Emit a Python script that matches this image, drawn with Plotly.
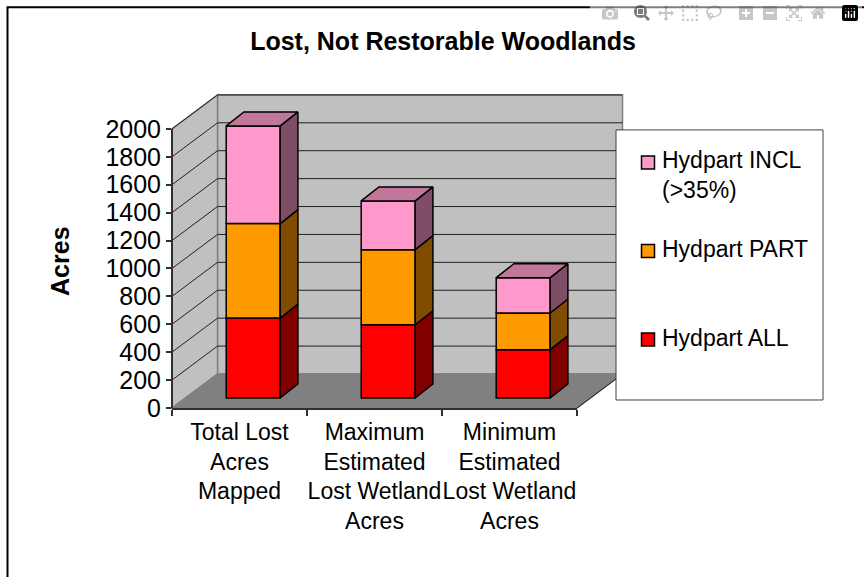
"""Lost, not restorable woodlands: Excel style stacked 3D column chart."""
import plotly.graph_objects as go

categories = [
    "Total Lost<br>Acres<br>Mapped",
    "Maximum<br>Estimated<br>Lost Wetland<br>Acres",
    "Minimum<br>Estimated<br>Lost Wetland<br>Acres",
]
hydpart_all = [573, 525, 346]
hydpart_part = [677, 538, 263]
hydpart_incl = [700, 349, 253]
y_ticks = list(range(0, 2001, 200))

FONT = "Liberation Sans, Arial, sans-serif"
Y_TOP = 2200  # head room for the lid of the tall column
PX_X = 135  # px per category
PX_Y = 0.1395  # px per acre
X0, Y0 = 172, 408  # page position of the axis origin
# oblique projection, in axis units
DEPTH_X = 45.5 / PX_X
DEPTH_Y = 34 / PX_Y
BAR_SHIFT_X = 13.7 / PX_X
BAR_SHIFT_Y = 10 / PX_Y
BAR_DEPTH_X = 17.7 / PX_X
BAR_DEPTH_Y = 14 / PX_Y
BAR_WIDTH = 54 / PX_X

series = [
    ("Hydpart ALL", hydpart_all, "#FF0000", "#800000"),
    ("Hydpart PART", hydpart_part, "#FF9900", "#804D00"),
    ("Hydpart INCL<br>(>35%)", hydpart_incl, "#FF99CC", "#804D66"),
]
TOP_COLOR = "#C0779A"
# first-line centre of each legend entry on the page, same order as series
legend_rows = [339.5, 251, 162.5]


def page_x(px):
    return (px - X0) / (3 * PX_X)


def page_y(py):
    return (Y0 - py) / (Y_TOP * PX_Y)


def poly(xs, ys, fill, line="#808080", width=1.5, close=True):
    """Polygon below the traces, given in axis units."""
    pts = [f"{x / 3:.5f},{y / Y_TOP:.5f}" for x, y in zip(xs, ys)]
    return dict(
        type="path", xref="paper", yref="paper", layer="below",
        path="M" + " L".join(pts) + (" Z" if close else ""),
        fillcolor=fill, line=dict(color=line, width=width),
    )


def face(xs, ys, color):
    return go.Scatter(
        x=xs, y=ys, mode="lines", fill="toself", fillcolor=color,
        line=dict(color="black", width=1.5),
        showlegend=False, hoverinfo="skip",
    )


fig = go.Figure()

x_front = [i + BAR_SHIFT_X + 0.5 for i in range(3)]
bottoms = [BAR_SHIFT_Y] * 3
for name, values, color, side in series:
    fig.add_trace(go.Bar(
        x=x_front, y=values, base=bottoms, width=BAR_WIDTH, name=name,
        marker=dict(color=color, line=dict(color="black", width=1.5)),
        showlegend=False, hoverinfo="skip",
    ))
    for xc, b, v in zip(x_front, bottoms, values):
        xr = xc + BAR_WIDTH / 2
        fig.add_trace(face(
            [xr, xr + BAR_DEPTH_X, xr + BAR_DEPTH_X, xr, xr],
            [b, b + BAR_DEPTH_Y, b + v + BAR_DEPTH_Y, b + v, b],
            side,
        ))
    bottoms = [b + v for b, v in zip(bottoms, values)]

# lid on top of each stack
for xc, t in zip(x_front, bottoms):
    xl, xr = xc - BAR_WIDTH / 2, xc + BAR_WIDTH / 2
    fig.add_trace(face(
        [xl, xr, xr + BAR_DEPTH_X, xl + BAR_DEPTH_X, xl],
        [t, t, t + BAR_DEPTH_Y, t + BAR_DEPTH_Y, t],
        TOP_COLOR,
    ))

top = y_ticks[-1]
shapes = [
    poly([DEPTH_X, 3 + DEPTH_X, 3 + DEPTH_X, DEPTH_X],
         [DEPTH_Y, DEPTH_Y, top + DEPTH_Y, top + DEPTH_Y], "#C0C0C0"),
    poly([0, DEPTH_X, DEPTH_X, 0], [0, DEPTH_Y, top + DEPTH_Y, top], "#C0C0C0"),
]
for y in y_ticks[1:]:
    shapes.append(poly([0, DEPTH_X, 3 + DEPTH_X], [y, y + DEPTH_Y, y + DEPTH_Y],
                       "rgba(0,0,0,0)", line="#202020", width=1, close=False))
shapes.append(poly([0, DEPTH_X, 3 + DEPTH_X, 3], [0, DEPTH_Y, DEPTH_Y, 0], "#808080"))
shapes.append(poly([3, 3 + DEPTH_X], [0, DEPTH_Y], "rgba(0,0,0,0)",
                   line="#202020", width=1, close=False))
# value axis line stops at the last tick, the axis range goes on above it
shapes.append(poly([0, 0], [0, top], "rgba(0,0,0,0)", line="#303030", width=2, close=False))
# chart frame: the page cuts it off on the right and at the bottom
shapes.append(dict(
    type="path", xref="paper", yref="paper", layer="below",
    path=f"M{page_x(7.5)},{page_y(577)} L{page_x(7.5)},{page_y(7.5)} L{page_x(864)},{page_y(7.5)}",
    line=dict(color="black", width=2),
))
# hand drawn legend so the swatches sit next to the text as in the original
shapes.append(dict(
    type="rect", xref="paper", yref="paper", layer="above",
    x0=page_x(616), x1=page_x(823), y0=page_y(400), y1=page_y(130),
    fillcolor="white", line=dict(color="#404040", width=1),
))
annotations = [dict(
    text="<b>Acres</b>", textangle=-90, showarrow=False,
    xref="paper", yref="paper", x=page_x(44), y=page_y(261),
    font=dict(size=25),
)]
for (name, _, color, _), row in zip(series, legend_rows):
    shapes.append(dict(
        type="rect", xref="paper", yref="paper", layer="above",
        x0=page_x(641.5), x1=page_x(654.5), y0=page_y(row + 6.5), y1=page_y(row - 6.5),
        fillcolor=color, line=dict(color="black", width=1.5),
    ))
    lines = name.count("<br>")
    annotations.append(dict(
        text=name, showarrow=False, align="left", xanchor="left", yanchor="middle",
        xref="paper", yref="paper", x=page_x(660), y=page_y(row - 1.5 + lines * 14.5),
        font=dict(size=23),
    ))

fig.update_layout(
    width=864, height=577,
    margin=dict(l=X0, r=864 - X0 - 3 * PX_X, t=Y0 - Y_TOP * PX_Y, b=577 - Y0),
    paper_bgcolor="white", plot_bgcolor="rgba(0,0,0,0)",
    font=dict(family=FONT, color="black", size=23),
    barmode="overlay",
    showlegend=False,
    shapes=shapes,
    annotations=annotations,
    title=dict(
        text="<b>Lost, Not Restorable Woodlands</b>",
        x=443 / 864, xanchor="center", y=1 - 41 / 577, yanchor="middle",
        font=dict(size=25),
    ),
    xaxis=dict(
        range=[0, 3], tickmode="array", tickvals=[0.5, 1.5, 2.5], ticktext=categories,
        tickangle=0, showgrid=False, zeroline=False, showline=True,
        linecolor="#303030", linewidth=2, ticks="", ticklen=0, ticklabelstandoff=2,
        minor=dict(tickmode="array", tickvals=[0, 1, 2, 3], ticks="outside",
                   ticklen=6, tickcolor="#303030", tickwidth=1.5, showgrid=False),
    ),
    yaxis=dict(
        range=[0, Y_TOP], tickmode="array", tickvals=y_ticks,
        showgrid=False, zeroline=False, showline=False,
        ticks="outside", ticklen=5,
        tickcolor="#303030", tickwidth=1.5, tickfont=dict(size=25),
    ),
)

fig.write_html("out.html", post_script="document.body.style.margin = '0';")
